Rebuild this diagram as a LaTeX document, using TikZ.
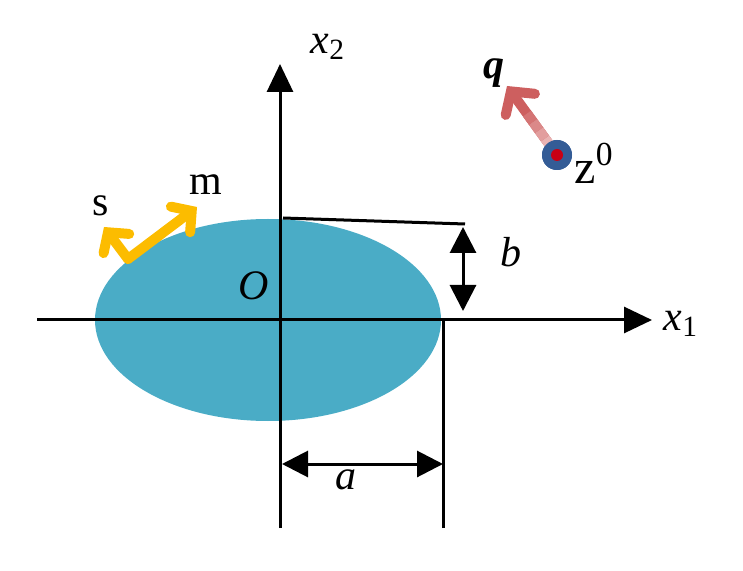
\documentclass[tikz,border=0pt]{standalone}
\usepackage{fontspec}
\setmainfont{Liberation Serif}
\usetikzlibrary{arrows.meta, positioning, calc}
\definecolor{ellblue}{RGB}{74,172,198}
\definecolor{goldarr}{RGB}{252,188,0}
\definecolor{qred}{RGB}{205,95,95}
\definecolor{qpink}{RGB}{240,200,200}
\definecolor{dotblue}{RGB}{52,92,150}
\definecolor{dotred}{RGB}{200,0,20}
\tikzstyle{axis} = [line width=1.5pt, -{Triangle[length=14pt,width=13pt]}]
\tikzstyle{dim} = [line width=1.5pt, {Triangle[length=13pt,width=13pt]}-{Triangle[length=13pt,width=13pt]}]
\tikzstyle{thin} = [line width=1.5pt]
\tikzstyle{dir} = [line width=5pt, color=goldarr, line cap=round, -{Straight Barb[length=7pt,width=16pt,line cap=round]}]
\tikzstyle{lab} = [font=\fontsize{21}{25}\selectfont, inner sep=0pt]

\begin{document}
\begin{tikzpicture}[x=0.5pt, y=-0.5pt]
\useasboundingbox (0,0) rectangle (743,571);

% Ellipse
\fill [ellblue] (268,320) ellipse [x radius=173, y radius=101];

% Coordinates
\coordinate (x1start) at (37,320);
\coordinate (x1end) at (652,320);
\coordinate (x2start) at (280,528);
\coordinate (x2end) at (280,64);
\coordinate (top) at (283,218);
\coordinate (bcorner) at (465,224);
\coordinate (btop) at (463,227);
\coordinate (bbot) at (463,311);
\coordinate (alow) at (443,528);
\coordinate (ahigh) at (443,320);
\coordinate (aleft) at (282,464);
\coordinate (aright) at (443,464);
\coordinate (base) at (128,259);
\coordinate (mtip) at (197,207);
\coordinate (stip) at (104,227);
\coordinate (qtip) at (507,86);

% Nodes
\node (x1) [lab] at (681,324) {\textit{x}\textsubscript{1}};
\node (x2) [lab] at (328,47) {\textit{x}\textsubscript{2}};
\node (O) [lab] at (254,286) {\textit{O}};
\node (b) [lab] at (511,252) {\textit{b}};
\node (a) [lab] at (346,480) {\textit{a}};
\node (m) [lab] at (206,185) {m};
\node (s) [lab] at (101,206) {s};
\node (q) [lab] at (494,73) {\textbf{\textit{q}}};
\node (z0) [circle, fill=dotblue, minimum size=15pt, inner sep=0pt] at (557,155) {};
\node (z0lab) [lab, font=\fontsize{24}{28}\selectfont] at (594,163) {z\textsuperscript{0}};

% Arrows
\draw [axis] (x1start) -- (x1end);
\draw [axis] (x2start) -- (x2end);
\draw [thin] (top) -- (bcorner);
\draw [dim] (btop) -- (bbot);
\draw [thin] (alow) -- (ahigh);
\draw [dim] (aleft) -- (aright);
\draw [dir] (base) -- (mtip);
\draw [dir] (base) -- (stip);
\draw [line width=5pt, color=qred, line cap=round, -{Straight Barb[length=8pt,width=18pt,line cap=round]}] (z0) -- (qtip);
\foreach \t/\mix in {0.12/100, 0.24/80, 0.36/60, 0.48/40, 0.60/20}
  \draw [line width=5pt, color=qpink!\mix!qred] ($(z0)!\t-0.12!(qtip)$) -- ($(z0)!\t!(qtip)$);
\node (z0top) [circle, fill=dotblue, minimum size=15pt, inner sep=0pt] at (z0) {};
\node (z0dot) [circle, fill=dotred, minimum size=6pt, inner sep=0pt] at (z0) {};

\end{tikzpicture}
\end{document}
